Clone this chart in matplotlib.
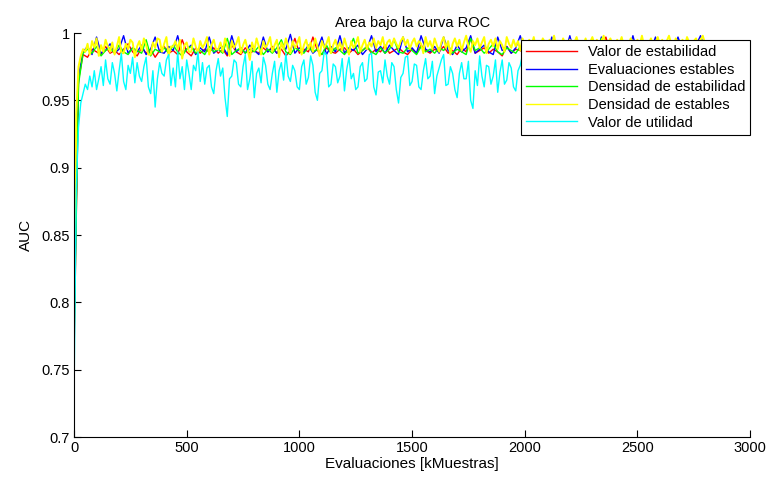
import numpy as np
import matplotlib
matplotlib.use("Agg")
import matplotlib.pyplot as plt
from matplotlib.ticker import FormatStrFormatter

plt.rcParams["font.family"] = ["Liberation Sans", "DejaVu Sans"]

# evaluations [kMuestras]
evals_20 = np.arange(0, 2801, 20)
evals_10 = np.arange(0, 2801, 10)

# AUC values in thousandths
valor_estabilidad = [
    760, 965, 984, 982, 988, 986, 984, 990, 985, 987,
    984, 988, 992, 986, 983, 989, 985, 988, 982, 987,
    990, 985, 987, 984, 995, 986, 983, 989, 985, 988,
    986, 989, 985, 988, 983, 991, 986, 984, 989, 985,
    987, 985, 989, 986, 990, 985, 988, 983, 987, 996,
    985, 988, 986, 997, 987, 984, 989, 986, 985, 988,
    989, 985, 988, 984, 987, 990, 985, 988, 986, 991,
    985, 987, 989, 986, 984, 988, 985, 991, 987, 985,
    988, 986, 990, 985, 987, 984, 989, 986, 996, 985,
    987, 989, 985, 988, 986, 983, 990, 985, 988, 987,
    985, 989, 986, 988, 991, 985, 987, 984, 989, 986,
    988, 985, 990, 987, 985, 989, 986, 988, 997, 985,
    987, 989, 985, 988, 986, 990, 985, 987, 989, 986,
    988, 985, 987, 990, 986, 989, 985, 988, 991, 986,
    987,
]
evaluaciones_estables = [
    780, 968, 986, 990, 984, 997, 985, 987, 992, 985,
    988, 998, 985, 989, 986, 991, 984, 988, 997, 986,
    985, 990, 987, 998, 985, 988, 991, 984, 989, 986,
    997, 985, 988, 990, 984, 998, 986, 989, 985, 991,
    987, 984, 997, 986, 989, 985, 991, 988, 999, 985,
    989, 986, 991, 985, 988, 997, 984, 990, 986, 998,
    985, 989, 987, 991, 984, 988, 998, 986, 990, 985,
    991, 987, 984, 997, 986, 989, 985, 998, 988, 986,
    990, 985, 997, 987, 984, 991, 986, 989, 998, 985,
    988, 991, 986, 984, 997, 987, 990, 985, 989, 998,
    986, 988, 991, 985, 990, 984, 997, 987, 989, 986,
    998, 985, 988, 991, 986, 990, 984, 997, 987, 989,
    985, 991, 988, 986, 998, 985, 989, 991, 987, 997,
    986, 990, 985, 988, 997, 987, 989, 985, 991, 998,
    988,
]
densidad_estabilidad = [
    770, 962, 985, 988, 985, 990, 983, 987, 989, 985,
    991, 986, 984, 989, 987, 985, 995, 983, 988, 986,
    989, 985, 991, 986, 983, 988, 990, 985, 987, 984,
    990, 986, 988, 985, 996, 984, 987, 989, 985, 988,
    986, 990, 984, 988, 985, 989, 995, 986, 984, 989,
    987, 985, 990, 986, 988, 984, 991, 985, 989, 987,
    984, 988, 996, 985, 987, 990, 986, 984, 989, 985,
    988, 995, 986, 985, 989, 987, 984, 990, 986, 988,
    985, 989, 987, 991, 985, 988, 986, 984, 996, 987,
    989, 985, 988, 992, 986, 984, 989, 987, 985, 990,
    986, 988, 984, 989, 995, 985, 987, 990, 986, 988,
    985, 989, 987, 984, 990, 986, 988, 996, 985, 987,
    989, 986, 988, 985, 991, 987, 984, 989, 986, 990,
    985, 988, 986, 991, 987, 985, 989, 986, 988, 995,
    985,
]
densidad_estables = [
    800, 940, 975, 983, 988, 986, 992, 984, 994, 989,
    996, 983, 991, 986, 995, 990, 986, 993, 984, 990,
    997, 985, 985, 992, 988, 995, 993, 982, 990, 994,
    987, 996, 991, 984, 984, 993, 989, 996, 995, 986,
    992, 997, 983, 990, 990, 994, 988, 995, 981, 991,
    993, 986, 986, 996, 990, 985, 994, 989, 992, 997,
    984, 991, 995, 988, 988, 993, 986, 996, 990, 983,
    994, 989, 992, 997, 985, 991, 995, 988, 980, 993,
    987, 996, 990, 984, 994, 989, 992, 997, 986, 991,
    995, 982, 993, 988, 996, 990, 985, 994, 989, 992,
    997, 984, 991, 995, 988, 993, 986, 996, 990, 983,
    994, 989, 992, 997, 985, 991, 995, 988, 993, 987,
    996, 990, 984, 994, 989, 992, 997, 986, 991, 995,
    988, 993, 990, 996, 989, 994, 991, 997, 988, 993,
    995, 990, 996, 992, 989, 994, 997, 991, 995, 988,
    993, 996, 990, 994, 992, 985, 997, 990, 994, 988,
    996, 991, 986, 993, 997, 989, 994, 984, 992, 996,
    990, 995, 987, 993, 998, 990, 986, 994, 991, 996,
    989, 993, 997, 985, 992, 995, 990, 996, 988, 994,
    991, 986, 997, 992, 989, 995, 990, 994, 987, 996,
    992, 989, 995, 991, 997, 988, 994, 990, 996, 993,
    989, 995, 991, 998, 990, 994, 987, 996, 992, 990,
    995, 989, 993, 997, 991, 994, 990, 996, 988, 993,
    997, 991, 995, 989, 994, 998, 990, 993, 996, 991,
    989, 995, 992, 997, 990, 994, 991, 996, 993, 989,
    995, 991, 998, 990, 994, 992, 996, 989, 993, 997,
    991, 995, 990, 994, 998, 992, 989, 996, 993, 991,
    995, 990, 997, 993, 989, 994, 996, 991, 995, 998,
    992,
]
valor_utilidad = [
    730, 885, 930, 948, 955, 962, 958, 968, 960, 972,
    958, 966, 975, 961, 980, 966, 962, 978, 970, 957,
    972, 985, 964, 958, 976, 970, 982, 963, 978, 968,
    964, 975, 982, 960, 955, 972, 945, 966, 978, 970,
    968, 980, 984, 961, 974, 960, 986, 966, 975, 958,
    980, 970, 958, 976, 972, 986, 964, 978, 962, 974,
    976, 960, 955, 972, 981, 968, 974, 952, 938, 966,
    968, 980, 978, 962, 960, 975, 984, 958, 966, 979,
    952, 970, 974, 963, 982, 976, 962, 958, 970, 979,
    956, 972, 978, 965, 985, 968, 964, 976, 972, 960,
    958, 975, 980, 962, 967, 983, 976, 956, 950, 970,
    972, 986, 984, 960, 962, 977, 975, 963, 968, 981,
    957, 973, 982, 966, 970, 958, 960, 975, 978, 964,
    966, 984, 985, 960, 954, 971, 972, 963, 980, 968,
    962, 978, 975, 958, 948, 967, 970, 982, 983, 961,
    964, 977, 976, 960, 958, 972, 981, 966, 968, 979,
    955, 968, 974, 980, 984, 961, 962, 975, 970, 958,
    952, 970, 978, 966, 966, 979, 950, 944, 972, 961,
    983, 968, 960, 976, 975, 962, 968, 980, 956, 971,
    980, 962, 965, 978, 974, 960, 957, 972, 976, 984,
    968, 975, 982, 960, 962, 977, 971, 965, 958, 974,
    972, 981, 966, 960, 978, 970, 985, 963, 974, 968,
    960, 976, 970, 984, 962, 958, 975, 980, 966, 972,
    978, 964, 955, 970, 982, 976, 961, 968, 985, 970,
    963, 974, 980, 966, 958, 972, 978, 962, 975, 984,
    970, 960, 976, 981, 964, 968, 973, 957, 979, 972,
    966, 983, 970, 962, 975, 980, 959, 971, 977, 965,
    974, 962, 978, 985, 968, 960, 976, 972, 964, 980,
    970,
]

series = [
    ("Valor de estabilidad", evals_20, valor_estabilidad, (1, 0, 0), 1.0),
    ("Evaluaciones estables", evals_20, evaluaciones_estables, (0, 0, 1), 1.0),
    ("Densidad de estabilidad", evals_20, densidad_estabilidad, (0, 1, 0), 1.0),
    ("Densidad de estables", evals_10, densidad_estables, (1, 1, 0), 1.4),
    ("Valor de utilidad", evals_10, valor_utilidad, (0, 1, 1), 1.0),
]

fig = plt.figure(figsize=(7.67, 4.84), dpi=100)
ax = fig.add_axes([0.0965, 0.0971, 0.8815, 0.8347])

for name, xs, vals, col, lw in series:
    ax.plot(xs, np.array(vals) / 1000.0, color=col, lw=lw, label=name)

ax.set_xlim(0, 3000)
ax.set_ylim(0.7, 1.0)
ax.set_xticks(np.arange(0, 3001, 500))
ax.set_yticks(np.arange(0.7, 1.0001, 0.05))
ax.yaxis.set_major_formatter(FormatStrFormatter("%g"))
ax.tick_params(direction="in", length=5, width=0.8, labelsize=10.5, pad=3)
ax.spines["top"].set_visible(False)
ax.spines["right"].set_visible(False)

ax.set_title("Area bajo la curva ROC", fontsize=10.5, pad=4)
ax.set_xlabel("Evaluaciones [kMuestras]", fontsize=11, labelpad=1)
ax.set_ylabel("AUC", fontsize=11, labelpad=6)

leg = ax.legend(loc="upper right", bbox_to_anchor=(1.0, 0.983), borderaxespad=0,
                fancybox=False, framealpha=1, edgecolor="black", fontsize=10.5,
                handlelength=3.5, labelspacing=0.25, borderpad=0.35, handletextpad=0.7)
leg.get_frame().set_linewidth(0.8)
for line in leg.get_lines():
    line.set_linewidth(1.0)

fig.savefig("out.png", dpi=100)
